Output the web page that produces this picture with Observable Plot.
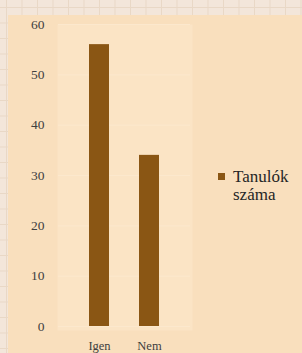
<!DOCTYPE html>
<html>
<head>
<meta charset="utf-8">
<script src="https://cdn.jsdelivr.net/npm/d3@7"></script>
<script src="https://cdn.jsdelivr.net/npm/@observablehq/plot@0.6"></script>
<style>
  html, body { margin: 0; padding: 0; }
  body {
    width: 302px; height: 353px; overflow: hidden; position: relative;
    background-color: #f3e6da;
    background-image:
      linear-gradient(to right, #e9d8c6 1px, transparent 1px),
      linear-gradient(to bottom, #e9d8c6 1px, transparent 1px);
    background-size: 15.5px 15.5px;
    background-position: 6px 7px;
  }
  #panel {
    position: absolute; left: 8px; top: 15px; width: 294px; height: 338px;
    background: #f9dfbd; overflow: hidden;
  }
  #panel svg, #panel svg text { font-family: "Liberation Serif", "Times New Roman", Tinos, "DejaVu Serif", serif !important; }
  #legend {
    position: absolute; left: 210px; top: 153px;
    font-family: "Liberation Serif", "Times New Roman", Tinos, "DejaVu Serif", serif;
    font-size: 17px; color: #262626;
    line-height: 18px;
  }
  #legend .sw {
    display: inline-block; width: 7px; height: 7px; background: #8a5614;
    margin-right: 8px; vertical-align: 2px;
  }
</style>
</head>
<body>
<div id="panel"></div>
<script>
const categories = ["Igen", "Nem"];
const values = [56, 34];
const seriesName = "Tanulók száma";
const yTicks = [0, 10, 20, 30, 40, 50, 60];

const data = categories.map((c, i) => ({category: c, value: values[i]}));

const chart = Plot.plot({
  width: 294,
  height: 338,
  marginLeft: 50,
  marginRight: 112,
  marginTop: 9,
  marginBottom: 27,
  style: {background: "transparent", fontSize: "13px", color: "#404040"},
  x: {domain: categories, padding: 0.6, label: null, tickSize: 0, tickPadding: 15},
  y: {domain: [0, 60], ticks: yTicks, label: null, tickSize: 0, tickPadding: 14},
  marks: [
    Plot.frame({fill: "#fbe4c5", stroke: null, insetLeft: -1, insetRight: -2, insetBottom: -4}),
    Plot.gridY(yTicks, {stroke: "#fce8cd", strokeOpacity: 1}),
    Plot.barY(data, {x: "category", y: "value", fill: "#8a5614"}),
    Plot.axisY({ticks: yTicks, tickSize: 0, tickPadding: 14, fontSize: 13.5}),
    Plot.axisX({tickSize: 0, tickPadding: 15, fontSize: 12.5})
  ]
});
document.getElementById("panel").appendChild(chart);

const legend = document.createElement("div");
legend.id = "legend";
const parts = seriesName.split(" ");
legend.innerHTML = `<div><span class="sw"></span>${parts[0]}</div><div style="padding-left:15px">${parts.slice(1).join(" ")}</div>`;
document.getElementById("panel").appendChild(legend);
</script>
</body>
</html>
